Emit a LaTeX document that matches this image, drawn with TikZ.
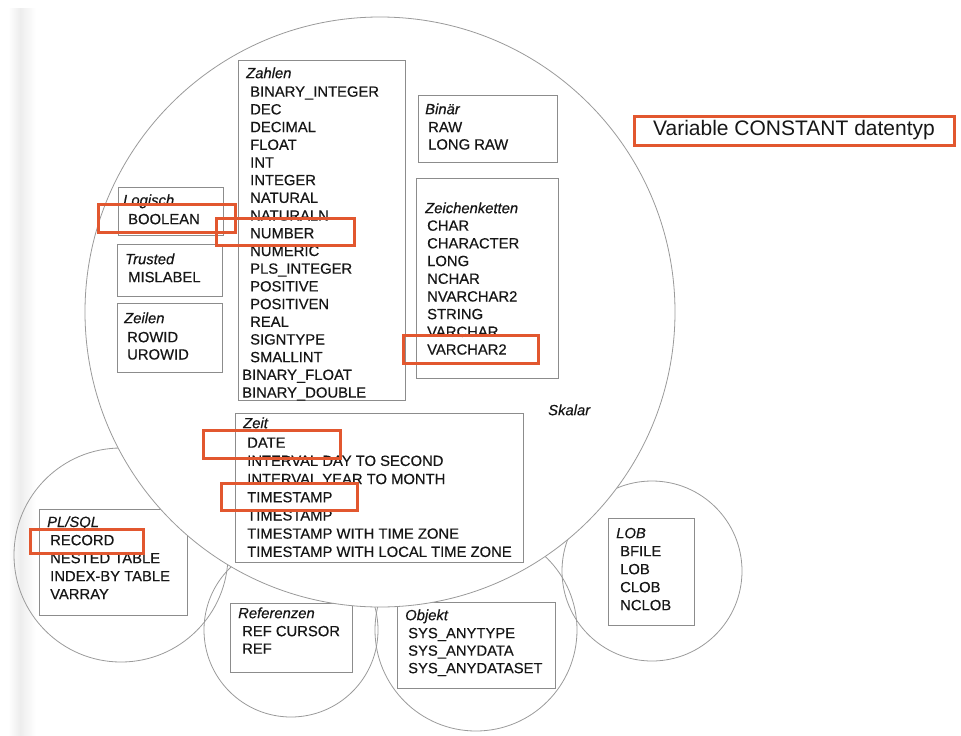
\documentclass[tikz,border=0pt]{standalone}
\usepackage{fontspec}
\setmainfont{Liberation Sans}
\newfontfamily\printface[FakeBold=0.4]{Liberation Sans}
\usetikzlibrary{calc}
\definecolor{ink}{HTML}{161616}
\definecolor{rim}{HTML}{9A9A9A}
\definecolor{frame}{HTML}{8C8C8C}
\definecolor{mark}{HTML}{E2572F}

\begin{document}
\begin{tikzpicture}[x=1pt,y=-1pt,
  bubble/.style={draw=rim, line width=0.8pt, circle, inner sep=0pt},
  catbox/.style={draw=frame, line width=0.9pt, rectangle, inner sep=0pt, anchor=north west},
  entry/.style={anchor=base west, inner sep=0pt, text=ink, font=\printface\fontsize{14.8}{17}\selectfont},
  caption/.style={entry, font=\printface\fontsize{14.8}{17}\selectfont\itshape},
  hilite/.style={draw=mark, line width=3pt, rectangle, inner sep=0pt},
]
\useasboundingbox (0,0) rectangle (961,736);

% faint paper edge on the left
\shade[left color=white, right color=black!7] (8,8) rectangle (20,736);
\shade[left color=black!7, right color=white] (20,8) rectangle (36,736);

% ---------- outer bubbles (behind the scalar bubble) ----------
\node[bubble, minimum size=214pt] (plsqlc) at (121,555) {};
\node[bubble, minimum size=174pt] (refc)   at (291,630) {};
\node[bubble, minimum size=202pt] (objc)   at (476,630) {};
\node[bubble, minimum size=180pt] (lobc)   at (652,571) {};

% PL/SQL
\node[catbox, minimum width=148pt, minimum height=106pt] (plsql) at (39,509) {};
\node[caption] (plsql-t) at (47,527) {PL/SQL};
\foreach \t [count=\i from 0] in {RECORD, NESTED TABLE, INDEX-BY TABLE, VARRAY}
  \node[entry] (plsql-\i) at (50,{545.2+18*\i}) {\t};

% Referenzen
\node[catbox, minimum width=122pt, minimum height=69pt] (ref) at (230,603) {};
\node[caption] (ref-t) at (238,618.2) {Referenzen};
\foreach \t [count=\i from 0] in {REF CURSOR, REF}
  \node[entry] (ref-\i) at (242,{636.2+17.5*\i}) {\t};

% Objekt
\node[catbox, minimum width=158pt, minimum height=86pt] (obj) at (397,602) {};
\node[caption] (obj-t) at (405,620.2) {Objekt};
\foreach \t [count=\i from 0] in {SYS\_ANYTYPE, SYS\_ANYDATA, SYS\_ANYDATASET}
  \node[entry] (obj-\i) at (408,{638.2+17.5*\i}) {\t};

% LOB
\node[catbox, minimum width=86pt, minimum height=107pt] (lob) at (608,518) {};
\node[caption] (lob-t) at (616,538.2) {LOB};
\foreach \t [count=\i from 0] in {BFILE, LOB, CLOB, NCLOB}
  \node[entry] (lob-\i) at (620,{556.2+18*\i}) {\t};

% ---------- scalar bubble ----------
\node[bubble, fill=white, minimum size=590pt] (skalar) at (380,312) {};
\node[caption] (skalar-t) at (548,415.2) {Skalar};

% Zahlen
\node[catbox, minimum width=167pt, minimum height=340pt] (zahlen) at (238,60) {};
\node[caption] (zahlen-t) at (246,78.2) {Zahlen};
\foreach \t [count=\i from 0] in {BINARY\_INTEGER, DEC, DECIMAL, FLOAT, INT, INTEGER,
    NATURAL, NATURALN, NUMBER, NUMERIC, PLS\_INTEGER, POSITIVE, POSITIVEN, REAL,
    SIGNTYPE, SMALLINT}
  \node[entry] (zahlen-\i) at (250,{96.7+17.7*\i}) {\t};
\node[entry] (zahlen-16) at (242,379.9) {BINARY\_FLOAT};
\node[entry] (zahlen-17) at (242,397.6) {BINARY\_DOUBLE};

% Logisch, Trusted, Zeilen
\node[catbox, minimum width=105pt, minimum height=48pt] (logisch) at (118,187) {};
\node[caption] (logisch-t) at (123,205.2) {Logisch};
\node[entry] (logisch-0) at (128,224.2) {BOOLEAN};

\node[catbox, minimum width=105pt, minimum height=52pt] (trusted) at (117,244) {};
\node[caption] (trusted-t) at (125,264.2) {Trusted};
\node[entry] (trusted-0) at (128,282.2) {MISLABEL};

\node[catbox, minimum width=105pt, minimum height=69pt] (zeilen) at (117,303) {};
\node[caption] (zeilen-t) at (124,323.2) {Zeilen};
\node[entry] (zeilen-0) at (127,342.2) {ROWID};
\node[entry] (zeilen-1) at (127,359.5) {UROWID};

% Binaer
\node[catbox, minimum width=139pt, minimum height=67pt] (binaer) at (418,95) {};
\node[caption] (binaer-t) at (425,114.2) {Binär};
\node[entry] (binaer-0) at (428,132.2) {RAW};
\node[entry] (binaer-1) at (428,149.5) {LONG RAW};

% Zeichenketten
\node[catbox, minimum width=142pt, minimum height=200pt] (zeichen) at (416,178) {};
\node[caption] (zeichen-t) at (425,213.2) {Zeichenketten};
\foreach \t [count=\i from 0] in {CHAR, CHARACTER, LONG, NCHAR, NVARCHAR2, STRING,
    VARCHAR, VARCHAR2}
  \node[entry] (zeichen-\i) at (427,{230.7+17.7*\i}) {\t};

% Zeit
\node[catbox, minimum width=288pt, minimum height=149pt] (zeit) at (235,413) {};
\node[caption] (zeit-t) at (243,428.2) {Zeit};
\foreach \t [count=\i from 0] in {DATE, INTERVAL DAY TO SECOND, INTERVAL YEAR TO MONTH,
    TIMESTAMP, TIMESTAMP, TIMESTAMP WITH TIME ZONE, TIMESTAMP WITH LOCAL TIME ZONE}
  \node[entry] (zeit-\i) at (247,{447.7+18.2*\i}) {\t};

% ---------- highlights ----------
\node[hilite, minimum width=137pt, minimum height=28pt] (hl-boolean) at (166.5,218) {};
\node[hilite, minimum width=138pt, minimum height=27pt] (hl-number) at (285,231.5) {};
\node[hilite, minimum width=135pt, minimum height=28pt] (hl-varchar) at (470.5,349) {};
\node[hilite, minimum width=137pt, minimum height=28pt] (hl-date) at (271.5,444) {};
\node[hilite, minimum width=136pt, minimum height=27pt] (hl-timestamp) at (289,496.5) {};
\node[hilite, minimum width=113pt, minimum height=24pt] (hl-record) at (86.5,541) {};
\node[hilite, minimum width=320pt, minimum height=29pt, text=ink,
      font=\fontsize{21}{24}\selectfont] (decl) at (794,130.5) {Variable CONSTANT datentyp};

\end{tikzpicture}
\end{document}
